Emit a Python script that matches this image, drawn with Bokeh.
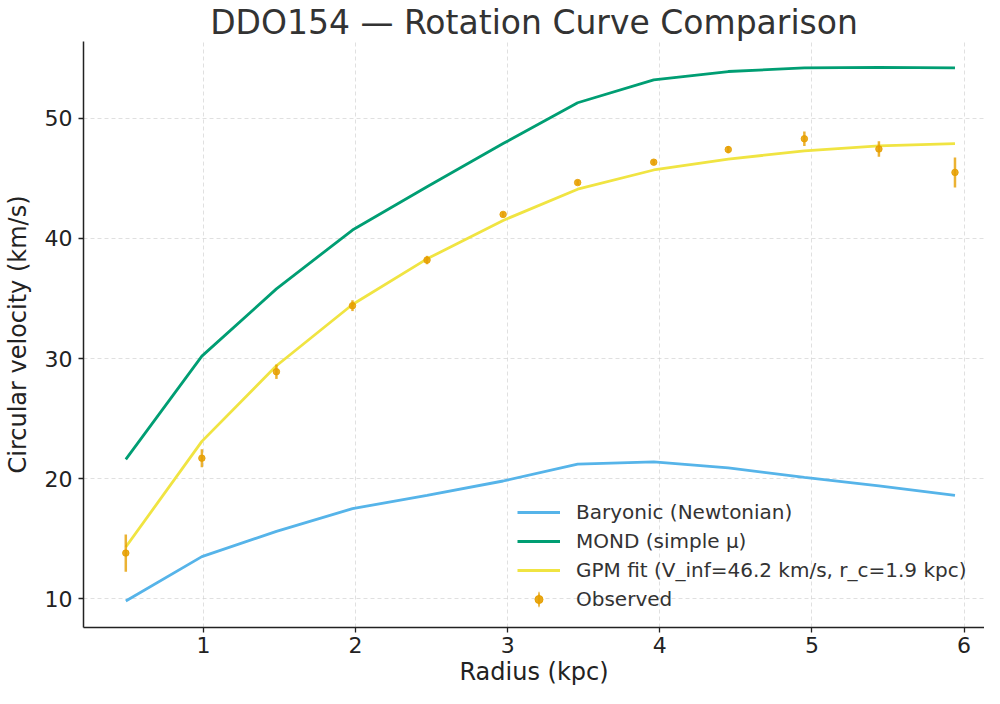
import numpy as np
from bokeh.plotting import figure
from bokeh.models import ColumnDataSource, Legend, LegendItem, Range1d, SingleIntervalTicker
from bokeh.embed import file_html
from bokeh.resources import INLINE

# ---- data ----
radius = [0.49, 0.99, 1.48, 1.98, 2.47, 2.97, 3.46, 3.96, 4.45, 4.95, 5.44, 5.94]
v_baryonic = [9.8, 13.5, 15.6, 17.5, 18.6, 19.8, 21.2, 21.4, 20.9, 20.1, 19.4, 18.6]
v_mond = [21.6, 30.2, 35.8, 40.7, 44.3, 47.9, 51.3, 53.2, 53.9, 54.2, 54.25, 54.2]
v_gpm = [14.3, 23.1, 29.4, 34.5, 38.3, 41.5, 44.1, 45.7, 46.6, 47.3, 47.7, 47.9]
v_obs = [13.8, 21.7, 28.9, 34.4, 38.2, 42.0, 44.65, 46.35, 47.4, 48.3, 47.45, 45.5]
v_err = [1.55, 0.75, 0.6, 0.45, 0.35, 0.2, 0.2, 0.2, 0.3, 0.6, 0.65, 1.25]

labels = ["Baryonic (Newtonian)", "MOND (simple \u03bc)",
          "GPM fit (V_inf=46.2 km/s, r_c=1.9 kpc)", "Observed"]

C_BAR = "#56B4E9"
C_MOND = "#009E73"
C_GPM = "#F0E442"
C_OBS = "#E69F00"
FONT = "DejaVu Sans"

r = np.array(radius)
vo = np.array(v_obs)
ve = np.array(v_err)

src = ColumnDataSource(dict(r=r, vb=v_baryonic, vm=v_mond, vg=v_gpm, vo=vo,
                            lo=vo - ve, hi=vo + ve))

p = figure(width=984, height=688, output_backend="svg", toolbar_location=None,
           x_range=Range1d(0.212, 6.134), y_range=Range1d(7.6, 56.4),
           min_border_left=80, min_border_right=0, min_border_bottom=55, min_border_top=10)

p.title.text = "DDO154 \u2014 Rotation Curve Comparison"
p.title.text_font = FONT
p.title.text_font_size = "33px"
p.title.text_font_style = "normal"
p.title.text_color = "#333333"
p.title.align = "center"
p.title.standoff = 0

p.outline_line_color = None
p.background_fill_color = "white"
p.border_fill_color = "white"

for ax in (p.xaxis[0], p.yaxis[0]):
    ax.axis_line_color = "#222222"
    ax.axis_line_width = 1.5
    ax.major_tick_line_color = "#222222"
    ax.major_tick_line_width = 1.3
    ax.major_tick_out = 5
    ax.major_tick_in = 0
    ax.minor_tick_line_color = None
    ax.major_label_text_font = FONT
    ax.major_label_text_font_size = "22px"
    ax.major_label_text_color = "#222222"
    ax.axis_label_text_font = FONT
    ax.axis_label_text_font_size = "24px"
    ax.axis_label_text_font_style = "normal"
    ax.axis_label_text_color = "#222222"

p.xaxis.axis_label = "Radius (kpc)"
p.yaxis.axis_label = "Circular velocity (km/s)"
p.xaxis.ticker = SingleIntervalTicker(interval=1)
p.yaxis.ticker = SingleIntervalTicker(interval=10)
p.xaxis.major_label_standoff = 4
p.yaxis.major_label_standoff = 6
p.xaxis.axis_label_standoff = 2
p.yaxis.axis_label_standoff = 10

for g in (p.xgrid[0], p.ygrid[0]):
    g.grid_line_color = "#cccccc"
    g.grid_line_alpha = 0.6
    g.grid_line_dash = "4 3"
    g.grid_line_width = 1
p.xgrid.ticker = p.xaxis[0].ticker
p.ygrid.ticker = p.yaxis[0].ticker

r_bar = p.line("r", "vb", source=src, line_color=C_BAR, line_width=2.8)
r_mond = p.line("r", "vm", source=src, line_color=C_MOND, line_width=2.8)
r_gpm = p.line("r", "vg", source=src, line_color=C_GPM, line_width=2.8)

p.segment(x0="r", y0="lo", x1="r", y1="hi", source=src, line_color=C_OBS,
          line_width=2.5, line_alpha=0.8)
p.scatter("r", "vo", source=src, size=6.5, fill_color=C_OBS, line_color=C_OBS,
          fill_alpha=0.85, line_alpha=0.85)

# legend proxies for the errorbar symbol (not drawn on the plot: NaN position)
proxy = ColumnDataSource(dict(x=np.array([np.nan]), y=np.array([np.nan])))
r_obs_bar = p.ellipse("x", "y", source=proxy, width=2.5, height=16,
                      width_units="screen", height_units="screen",
                      fill_color=C_OBS, fill_alpha=0.8, line_color=None)
r_obs_dot = p.scatter("x", "y", source=proxy, size=7, fill_color=C_OBS,
                      line_color=C_OBS, fill_alpha=0.9)

legend = Legend(items=[
    LegendItem(label=labels[0], renderers=[r_bar]),
    LegendItem(label=labels[1], renderers=[r_mond]),
    LegendItem(label=labels[2], renderers=[r_gpm]),
    LegendItem(label=labels[3], renderers=[r_obs_bar, r_obs_dot]),
], location=(434, 16))
legend.label_text_font = FONT
legend.label_text_font_size = "20px"
legend.label_text_color = "#333333"
legend.glyph_width = 43
legend.glyph_height = 20
legend.label_height = 25
legend.label_standoff = 16
legend.spacing = 4
legend.padding = 0
legend.margin = 0
legend.background_fill_alpha = 0
legend.border_line_alpha = 0
p.add_layout(legend, "center")

open("out.html", "w").write(file_html(p, INLINE))
